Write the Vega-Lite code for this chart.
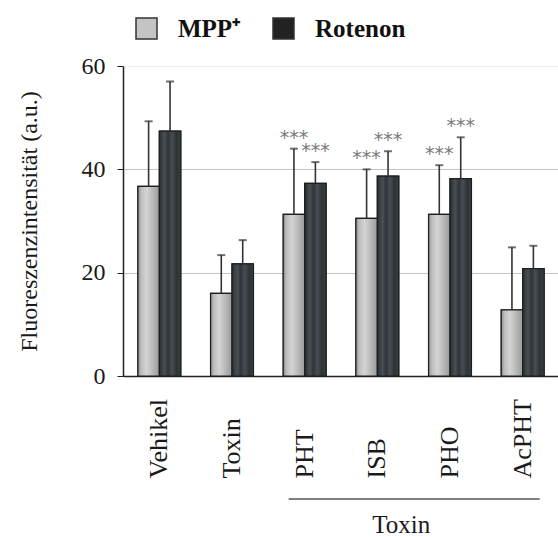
{
  "$schema": "https://vega.github.io/schema/vega-lite/v6.json",
  "autosize": "none",
  "width": 436,
  "height": 310,
  "padding": {"left": 123, "top": 66, "right": 0, "bottom": 161},
  "background": "white",
  "config": {
    "view": {"stroke": null},
    "font": "Liberation Serif"
  },
  "data": {
    "values": [
      {"group": "Vehikel", "series": "MPP⁺", "mean": 36.7, "upper": 49.3, "sig": ""},
      {"group": "Vehikel", "series": "Rotenon", "mean": 47.4, "upper": 57.0, "sig": ""},
      {"group": "Toxin", "series": "MPP⁺", "mean": 16.0, "upper": 23.4, "sig": ""},
      {"group": "Toxin", "series": "Rotenon", "mean": 21.7, "upper": 26.3, "sig": ""},
      {"group": "PHT", "series": "MPP⁺", "mean": 31.3, "upper": 44.0, "sig": "***"},
      {"group": "PHT", "series": "Rotenon", "mean": 37.3, "upper": 41.4, "sig": "***"},
      {"group": "ISB", "series": "MPP⁺", "mean": 30.5, "upper": 40.0, "sig": "***"},
      {"group": "ISB", "series": "Rotenon", "mean": 38.7, "upper": 43.5, "sig": "***"},
      {"group": "PHO", "series": "MPP⁺", "mean": 31.3, "upper": 40.8, "sig": "***"},
      {"group": "PHO", "series": "Rotenon", "mean": 38.2, "upper": 46.2, "sig": "***"},
      {"group": "AcPHT", "series": "MPP⁺", "mean": 12.8, "upper": 24.9, "sig": ""},
      {"group": "AcPHT", "series": "Rotenon", "mean": 20.8, "upper": 25.2, "sig": ""}
    ]
  },
  "layer": [
    {
      "mark": {"type": "bar", "stroke": "#1e1e1e", "strokeWidth": 1.2},
      "encoding": {
        "x": {
          "field": "group", "type": "nominal",
          "sort": ["Vehikel", "Toxin", "PHT", "ISB", "PHO", "AcPHT"],
          "scale": {"paddingInner": 0.41, "paddingOuter": 0.205},
          "axis": {
            "title": null, "ticks": false, "labelAngle": 270, "labelAlign": "left",
            "labelBaseline": "middle", "labelPadding": 102, "labelFontSize": 26,
            "labelColor": "#1a1a1a", "domainColor": "#222", "domainWidth": 1.5
          }
        },
        "xOffset": {"field": "series", "type": "nominal", "sort": ["MPP⁺", "Rotenon"]},
        "y": {
          "field": "mean", "type": "quantitative",
          "scale": {"domain": [0, 60], "nice": false},
          "axis": {
            "title": "Fluoreszenzintensität (a.u.)", "values": [0, 20, 40, 60],
            "labelFontSize": 24, "labelColor": "#1a1a1a", "labelPadding": 12,
            "tickSize": 6, "tickColor": "#222", "domainColor": "#222", "domainWidth": 1.5,
            "titleFontSize": 24, "titleFontWeight": "normal", "titleColor": "#1a1a1a",
            "titlePadding": 40,
            "gridColor": {"condition": {"test": "datum.value === 60", "value": "#ececec"}, "value": "#c4c4c4"}
          }
        },
        "color": {
          "field": "series", "type": "nominal",
          "scale": {"domain": ["MPP⁺", "Rotenon"], "range": ["#c4c4c4", "#222222"]},
          "legend": {
            "title": null, "orient": "none", "direction": "horizontal",
            "legendX": 11, "legendY": -50,
            "symbolType": "square", "symbolSize": 441, "symbolStrokeColor": "#333",
            "symbolStrokeWidth": 1.5, "symbolOpacity": 1,
            "labelFontSize": 25, "labelFontWeight": "bold", "labelColor": "#111",
            "labelOffset": 19, "columnPadding": 29
          }
        }
      }
    },
    {
      "transform": [{"filter": "datum.series === 'MPP⁺'"}],
      "mark": {
        "type": "bar", "stroke": "#1e1e1e", "strokeWidth": 1.2,
        "fill": {
          "gradient": "linear", "x1": 0, "x2": 1, "y1": 0, "y2": 0,
          "stops": [
            {"offset": 0, "color": "#8c8c8c"},
            {"offset": 0.15, "color": "#bdbdbd"},
            {"offset": 0.4, "color": "#d4d4d4"},
            {"offset": 0.7, "color": "#b8b8b8"},
            {"offset": 1, "color": "#9a9a9a"}
          ]
        }
      },
      "encoding": {
        "x": {"field": "group", "type": "nominal", "sort": ["Vehikel", "Toxin", "PHT", "ISB", "PHO", "AcPHT"]},
        "xOffset": {"field": "series", "type": "nominal", "sort": ["MPP⁺", "Rotenon"]},
        "y": {"field": "mean", "type": "quantitative"}
      }
    },
    {
      "transform": [{"filter": "datum.series === 'Rotenon'"}],
      "mark": {
        "type": "bar", "stroke": "#1e1e1e", "strokeWidth": 1.2,
        "fill": {
          "gradient": "linear", "x1": 0, "x2": 1, "y1": 0, "y2": 0,
          "stops": [
            {"offset": 0, "color": "#2a2e30"},
            {"offset": 0.25, "color": "#4a5052"},
            {"offset": 0.4, "color": "#30353a"},
            {"offset": 0.6, "color": "#474d50"},
            {"offset": 0.8, "color": "#2e3336"},
            {"offset": 1, "color": "#3a3f42"}
          ]
        }
      },
      "encoding": {
        "x": {"field": "group", "type": "nominal", "sort": ["Vehikel", "Toxin", "PHT", "ISB", "PHO", "AcPHT"]},
        "xOffset": {"field": "series", "type": "nominal", "sort": ["MPP⁺", "Rotenon"]},
        "y": {"field": "mean", "type": "quantitative"}
      }
    },
    {
      "mark": {"type": "rule", "color": "#333", "strokeWidth": 1.6},
      "encoding": {
        "x": {"field": "group", "type": "nominal", "sort": ["Vehikel", "Toxin", "PHT", "ISB", "PHO", "AcPHT"]},
        "xOffset": {"field": "series", "type": "nominal", "sort": ["MPP⁺", "Rotenon"]},
        "y": {"field": "mean", "type": "quantitative"},
        "y2": {"field": "upper"}
      }
    },
    {
      "mark": {"type": "tick", "color": "#333", "thickness": 2, "size": 8, "orient": "horizontal"},
      "encoding": {
        "x": {"field": "group", "type": "nominal", "sort": ["Vehikel", "Toxin", "PHT", "ISB", "PHO", "AcPHT"]},
        "xOffset": {"field": "series", "type": "nominal", "sort": ["MPP⁺", "Rotenon"]},
        "y": {"field": "upper", "type": "quantitative"}
      }
    },
    {
      "mark": {"type": "text", "font": "DejaVu Sans", "fontSize": 19, "color": "#7a7a7a", "baseline": "middle", "dy": -11},
      "encoding": {
        "x": {"field": "group", "type": "nominal", "sort": ["Vehikel", "Toxin", "PHT", "ISB", "PHO", "AcPHT"]},
        "xOffset": {"field": "series", "type": "nominal", "sort": ["MPP⁺", "Rotenon"]},
        "y": {"field": "upper", "type": "quantitative"},
        "text": {"field": "sig"}
      }
    },
    {
      "data": {"values": [{"label": "Toxin"}]},
      "mark": {"type": "rule", "color": "#555", "strokeWidth": 1.6, "clip": false, "xOffset": -16, "x2Offset": 17},
      "encoding": {
        "x": {"datum": "PHT", "type": "nominal"},
        "x2": {"datum": "AcPHT"},
        "y": {"datum": -23.8, "type": "quantitative"}
      }
    },
    {
      "data": {"values": [{"label": "Toxin"}]},
      "mark": {"type": "text", "fontSize": 25, "color": "#1a1a1a", "baseline": "middle", "align": "center", "dx": 24},
      "encoding": {
        "x": {"datum": "ISB", "type": "nominal"},
        "y": {"datum": -28.9, "type": "quantitative"},
        "text": {"field": "label"}
      }
    }
  ]
}
